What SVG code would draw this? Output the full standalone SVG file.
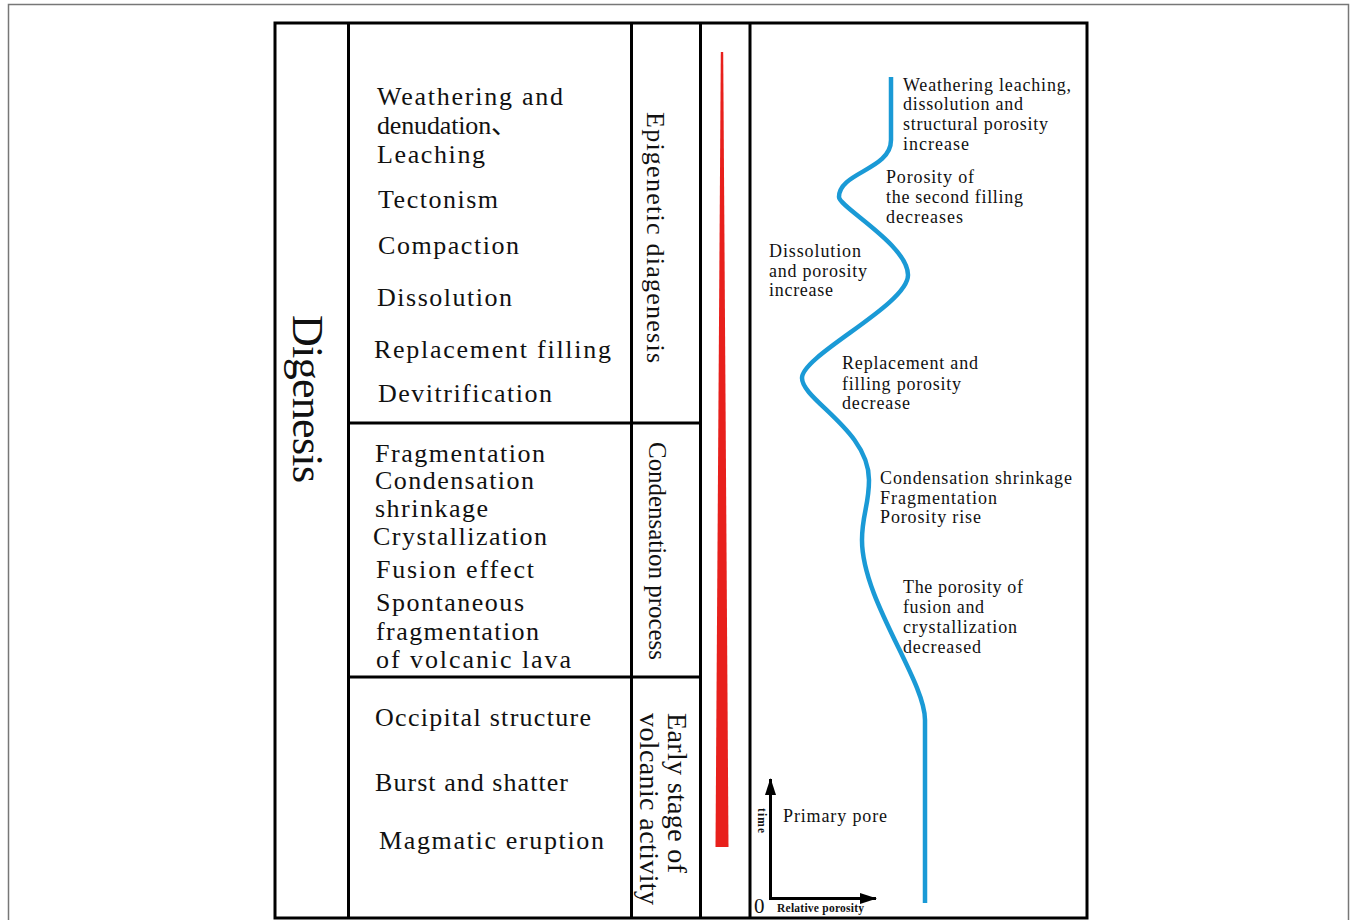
<svg xmlns="http://www.w3.org/2000/svg" width="1356" height="920" viewBox="0 0 1356 920">
<style>
.t{font-family:"Liberation Serif","Times New Roman","Noto Sans CJK SC",serif;fill:#111;}
.l{font-size:26px;}
.r{font-size:18px;}
.b{font-weight:bold;font-size:11.5px;}
.grid{stroke:#000;stroke-width:3;fill:none;}
</style>
<defs>
<marker id="ah" markerWidth="17" markerHeight="11" refX="16" refY="5.5" orient="auto" markerUnits="userSpaceOnUse">
<path d="M0,0 L17,5.5 L0,11 z" fill="#000"/>
</marker>
</defs>
<rect x="0" y="0" width="1356" height="920" fill="#fff"/>
<rect x="8.5" y="4.5" width="1340" height="940" fill="none" stroke="#777" stroke-width="1.5"/>

<g id="table">
<rect class="grid" x="275" y="23" width="812" height="895"/>
<line class="grid" x1="348.5" y1="23" x2="348.5" y2="918"/>
<line class="grid" x1="631.5" y1="23" x2="631.5" y2="918"/>
<line class="grid" x1="700.5" y1="23" x2="700.5" y2="918"/>
<line class="grid" x1="750" y1="23" x2="750" y2="918"/>
<line class="grid" x1="348" y1="423" x2="700" y2="423"/>
<line class="grid" x1="348" y1="677" x2="700" y2="677"/>
</g>

<g id="digenesis">
<text class="t" font-size="44" transform="translate(293,315) rotate(90)" textLength="168" lengthAdjust="spacing">Digenesis</text>
</g>

<g id="epigenetic-processes">
<text class="t l" x="377" y="105" textLength="186" lengthAdjust="spacing">Weathering and</text>
<text class="t l" x="377" y="134" textLength="140" lengthAdjust="spacing">denudation、</text>
<text class="t l" x="377" y="163" textLength="108" lengthAdjust="spacing">Leaching</text>
<text class="t l" x="378" y="208" textLength="120" lengthAdjust="spacing">Tectonism</text>
<text class="t l" x="378" y="254" textLength="141" lengthAdjust="spacing">Compaction</text>
<text class="t l" x="377" y="306" textLength="135" lengthAdjust="spacing">Dissolution</text>
<text class="t l" x="374" y="358" textLength="237" lengthAdjust="spacing">Replacement filling</text>
<text class="t l" x="378" y="402" textLength="174" lengthAdjust="spacing">Devitrification</text>
</g>

<g id="condensation-processes">
<text class="t l" x="375" y="462" textLength="170" lengthAdjust="spacing">Fragmentation</text>
<text class="t l" x="375" y="489" textLength="159" lengthAdjust="spacing">Condensation</text>
<text class="t l" x="375" y="517" textLength="113" lengthAdjust="spacing">shrinkage</text>
<text class="t l" x="373" y="545" textLength="174" lengthAdjust="spacing">Crystallization</text>
<text class="t l" x="376" y="578" textLength="158" lengthAdjust="spacing">Fusion effect</text>
<text class="t l" x="376" y="611" textLength="148" lengthAdjust="spacing">Spontaneous</text>
<text class="t l" x="376" y="640" textLength="163" lengthAdjust="spacing">fragmentation</text>
<text class="t l" x="376" y="668" textLength="195" lengthAdjust="spacing">of volcanic lava</text>
</g>

<g id="early-processes">
<text class="t l" x="375" y="726" textLength="216" lengthAdjust="spacing">Occipital structure</text>
<text class="t l" x="375" y="791" textLength="193" lengthAdjust="spacing">Burst and shatter</text>
<text class="t l" x="379" y="849" textLength="225" lengthAdjust="spacing">Magmatic eruption</text>
</g>

<g id="stage-epigenetic">
<text class="t" font-size="26" transform="translate(647,112) rotate(90)" textLength="251" lengthAdjust="spacing">Epigenetic diagenesis</text>
</g>
<g id="stage-condensation">
<text class="t" font-size="25" transform="translate(649,442) rotate(90)" textLength="218" lengthAdjust="spacing">Condensation process</text>
</g>
<g id="stage-early">
<text class="t" font-size="28" transform="translate(668,713) rotate(90)" textLength="160" lengthAdjust="spacing">Early stage of</text>
<text class="t" font-size="28" transform="translate(640,713) rotate(90)" textLength="192" lengthAdjust="spacing">volcanic activity</text>
</g>

<g id="time-bar">
<polygon points="720.8,52 723.2,52 728.5,847 715.5,847" fill="#e8201c"/>
</g>

<g id="connectors">
<path d="M891,77 V140 C891,170 839,172 839,197 C839,207 908,245 908,275 C908,305 802,355 802,378 C802,400 869,430 869,480 C869,505 862,515 862,540 C862,600 925,680 925,720 V903" fill="none" stroke="#1a9ad6" stroke-width="4.5" stroke-linecap="butt"/>
<line x1="770.5" y1="899" x2="770.5" y2="779" stroke="#000" stroke-width="3" marker-end="url(#ah)"/>
<line x1="769" y1="898.5" x2="876" y2="898.5" stroke="#000" stroke-width="3" marker-end="url(#ah)"/>
</g>

<g id="axis-labels">
<text class="t" font-size="21" x="754" y="913">0</text>
<text class="t b" x="777" y="912" textLength="87" lengthAdjust="spacing">Relative porosity</text>
<text class="t b" transform="translate(758,808) rotate(90)" textLength="25" lengthAdjust="spacing">time</text>
<text class="t r" x="783" y="822" textLength="104" lengthAdjust="spacing">Primary pore</text>
</g>

<g id="label-weathering">
<text class="t r" x="903" y="91" textLength="168" lengthAdjust="spacing">Weathering leaching,</text>
<text class="t r" x="903" y="110" textLength="120" lengthAdjust="spacing">dissolution and</text>
<text class="t r" x="903" y="130" textLength="145" lengthAdjust="spacing">structural porosity</text>
<text class="t r" x="903" y="150" textLength="66" lengthAdjust="spacing">increase</text>
</g>
<g id="label-second-filling">
<text class="t r" x="886" y="183" textLength="88" lengthAdjust="spacing">Porosity of</text>
<text class="t r" x="886" y="203" textLength="137" lengthAdjust="spacing">the second filling</text>
<text class="t r" x="886" y="223" textLength="77" lengthAdjust="spacing">decreases</text>
</g>
<g id="label-dissolution">
<text class="t r" x="769" y="257" textLength="92" lengthAdjust="spacing">Dissolution</text>
<text class="t r" x="769" y="277" textLength="98" lengthAdjust="spacing">and porosity</text>
<text class="t r" x="769" y="296" textLength="64" lengthAdjust="spacing">increase</text>
</g>
<g id="label-replacement">
<text class="t r" x="842" y="369" textLength="136" lengthAdjust="spacing">Replacement and</text>
<text class="t r" x="842" y="390" textLength="119" lengthAdjust="spacing">filling porosity</text>
<text class="t r" x="842" y="409" textLength="68" lengthAdjust="spacing">decrease</text>
</g>
<g id="label-condensation">
<text class="t r" x="880" y="484" textLength="192" lengthAdjust="spacing">Condensation shrinkage</text>
<text class="t r" x="880" y="504" textLength="117" lengthAdjust="spacing">Fragmentation</text>
<text class="t r" x="880" y="523" textLength="101" lengthAdjust="spacing">Porosity rise</text>
</g>
<g id="label-fusion">
<text class="t r" x="903" y="593" textLength="120" lengthAdjust="spacing">The porosity of</text>
<text class="t r" x="903" y="613" textLength="81" lengthAdjust="spacing">fusion and</text>
<text class="t r" x="903" y="633" textLength="114" lengthAdjust="spacing">crystallization</text>
<text class="t r" x="903" y="653" textLength="78" lengthAdjust="spacing">decreased</text>
</g>
</svg>
